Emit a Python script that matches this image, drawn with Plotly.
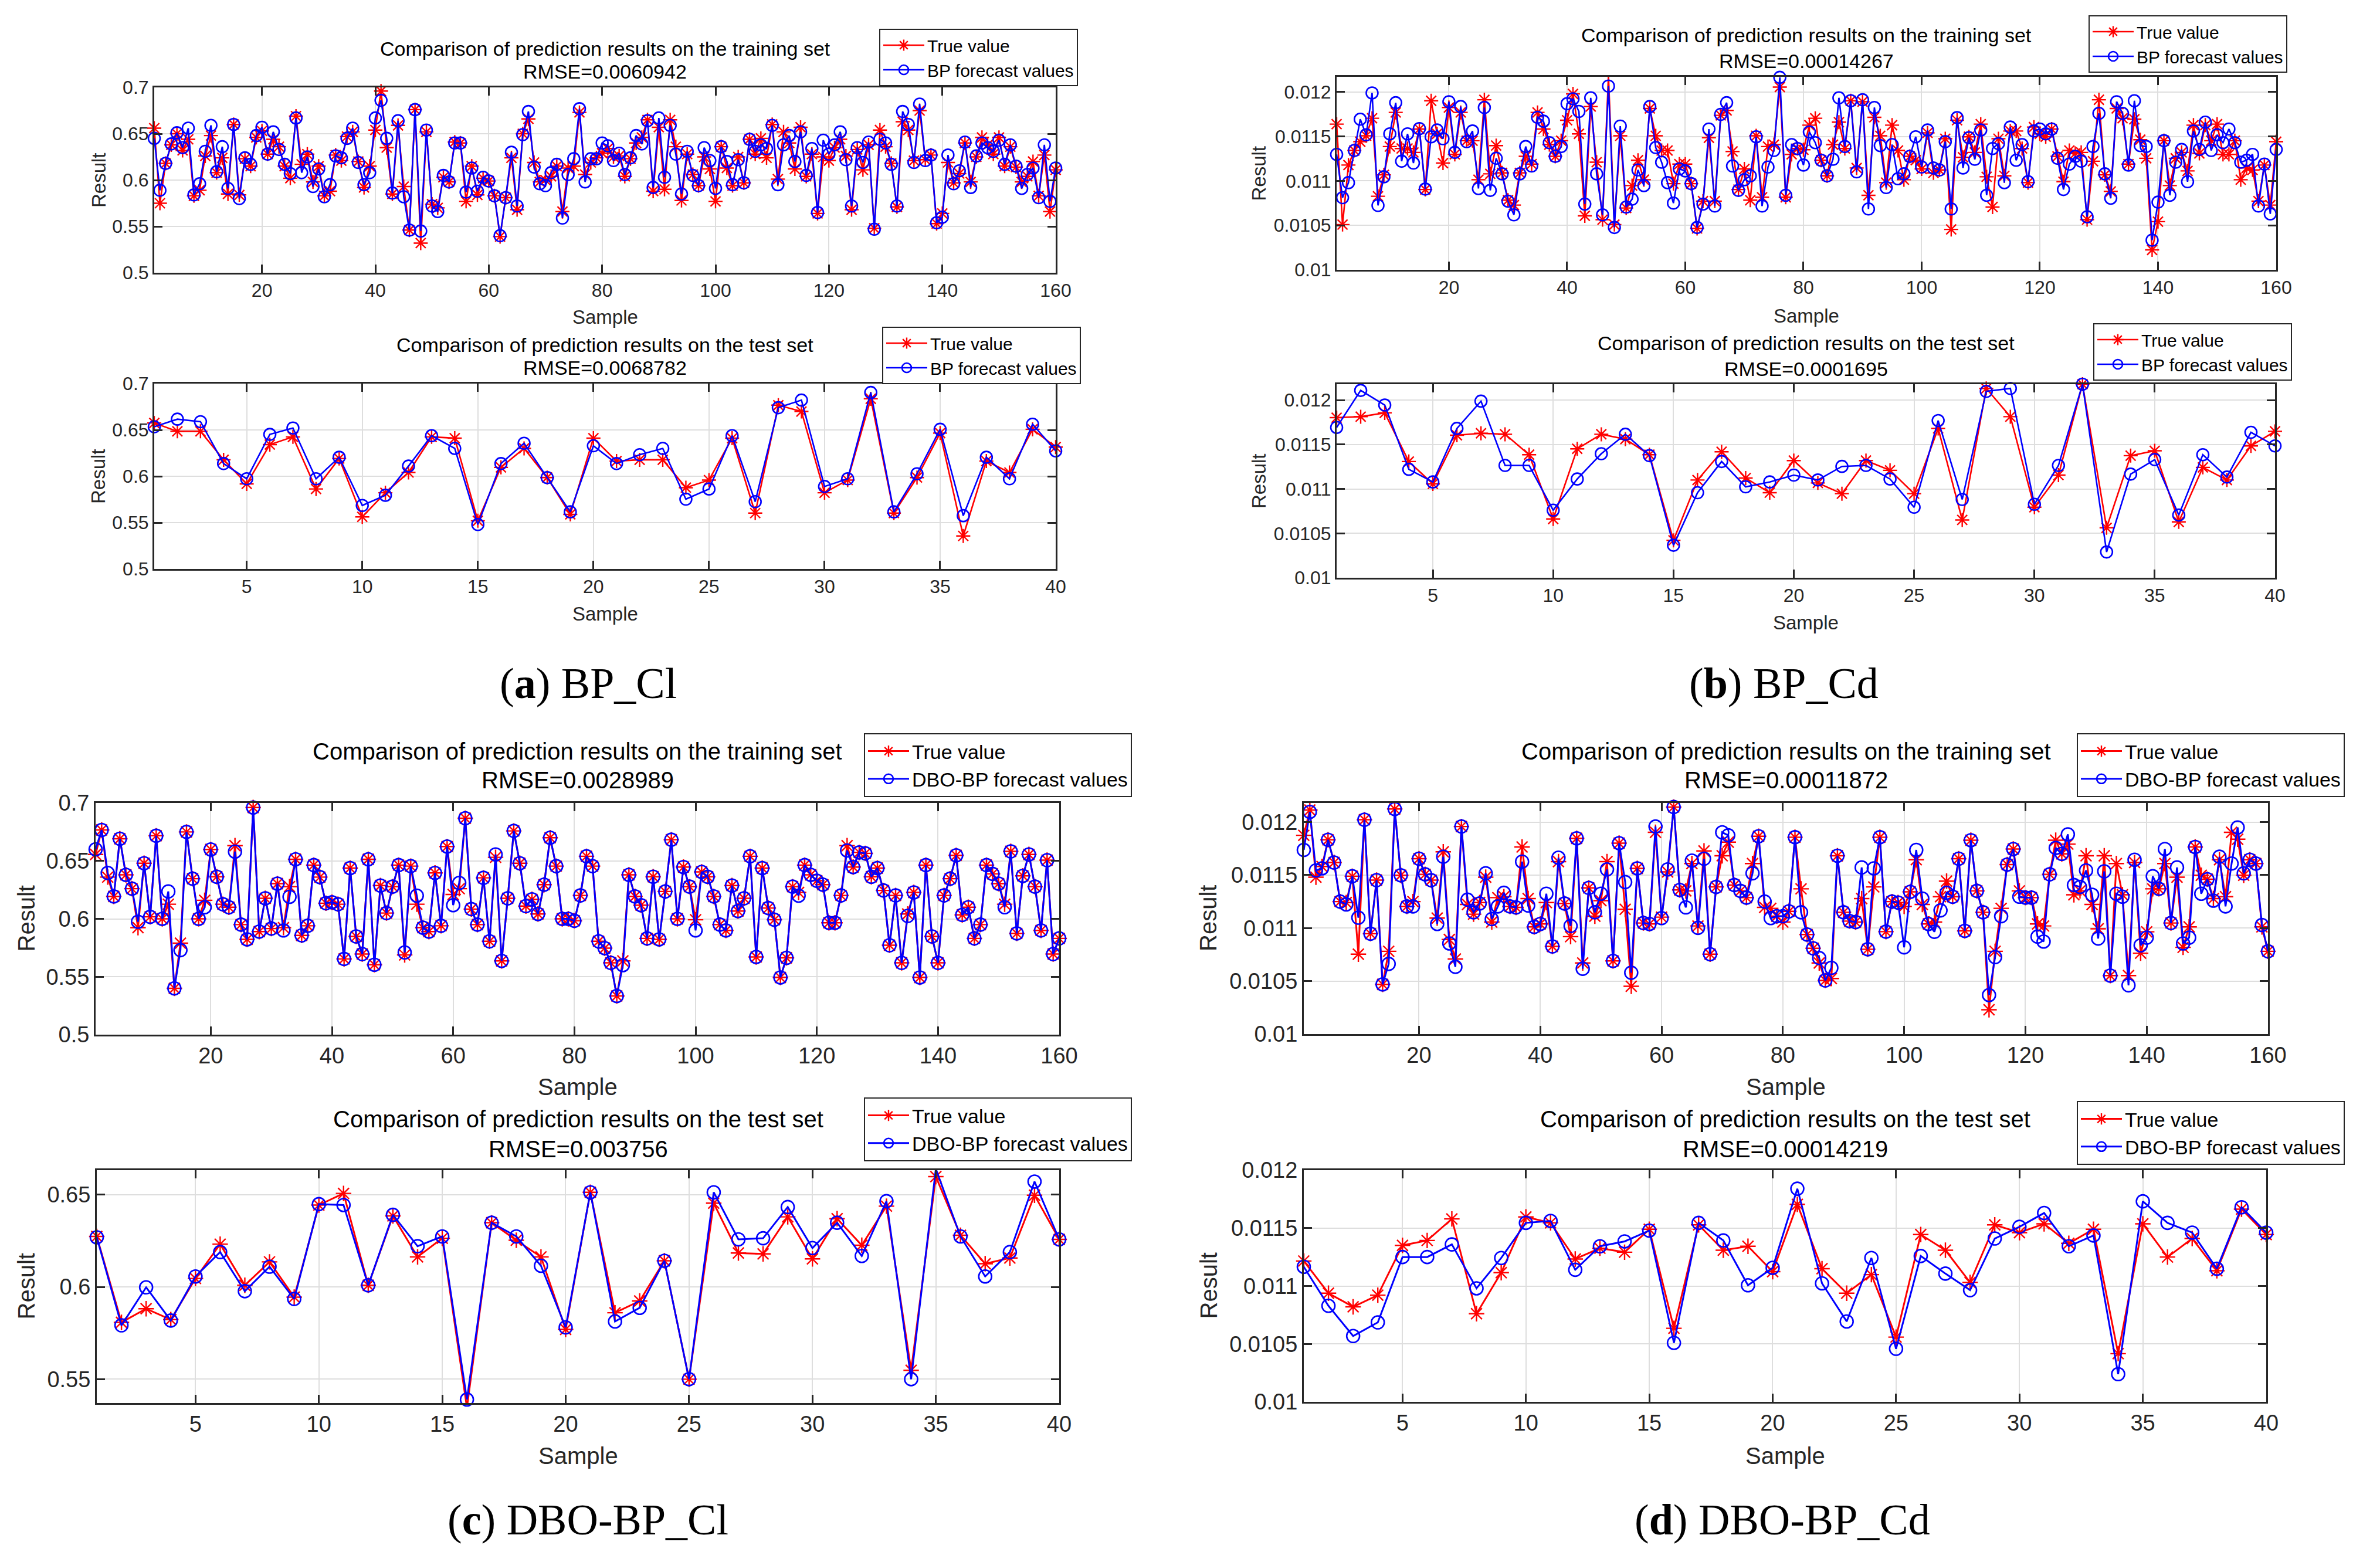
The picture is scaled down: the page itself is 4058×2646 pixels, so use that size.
import plotly.graph_objects as go

# ---------------- data ----------------
train_x = list(range(1, 161))
test_x = list(range(1, 41))

a_train_true = [0.656, 0.575, 0.618, 0.638, 0.650, 0.632, 0.644, 0.583, 0.589, 0.626,
                0.648, 0.608, 0.624, 0.585, 0.660, 0.584, 0.623, 0.615, 0.646, 0.653,
                0.628, 0.644, 0.636, 0.615, 0.602, 0.669, 0.617, 0.628, 0.598, 0.615,
                0.583, 0.588, 0.627, 0.621, 0.647, 0.652, 0.620, 0.592, 0.615, 0.654,
                0.696, 0.635, 0.585, 0.659, 0.593, 0.546, 0.676, 0.532, 0.652, 0.574,
                0.570, 0.603, 0.598, 0.641, 0.640, 0.577, 0.615, 0.584, 0.602, 0.599,
                0.583, 0.539, 0.581, 0.624, 0.568, 0.650, 0.666, 0.619, 0.598, 0.600,
                0.604, 0.615, 0.566, 0.613, 0.615, 0.673, 0.606, 0.619, 0.624, 0.629,
                0.634, 0.625, 0.626, 0.604, 0.623, 0.640, 0.646, 0.665, 0.588, 0.657,
                0.590, 0.665, 0.636, 0.578, 0.628, 0.606, 0.594, 0.625, 0.612, 0.577,
                0.636, 0.613, 0.594, 0.625, 0.597, 0.644, 0.628, 0.645, 0.624, 0.660,
                0.601, 0.652, 0.640, 0.612, 0.657, 0.604, 0.628, 0.564, 0.625, 0.621,
                0.635, 0.644, 0.626, 0.568, 0.633, 0.611, 0.638, 0.548, 0.654, 0.636,
                0.618, 0.571, 0.663, 0.654, 0.621, 0.675, 0.622, 0.627, 0.553, 0.564,
                0.619, 0.597, 0.607, 0.640, 0.598, 0.625, 0.646, 0.638, 0.628, 0.646,
                0.615, 0.636, 0.614, 0.598, 0.604, 0.620, 0.583, 0.627, 0.566, 0.611]
a_train_pred = [0.645, 0.589, 0.618, 0.639, 0.651, 0.635, 0.656, 0.584, 0.596, 0.631,
                0.659, 0.609, 0.636, 0.591, 0.660, 0.580, 0.624, 0.617, 0.648, 0.657,
                0.628, 0.652, 0.633, 0.617, 0.607, 0.667, 0.608, 0.625, 0.593, 0.612,
                0.582, 0.595, 0.626, 0.624, 0.645, 0.656, 0.619, 0.595, 0.608, 0.667,
                0.686, 0.645, 0.586, 0.664, 0.582, 0.546, 0.676, 0.545, 0.654, 0.572,
                0.566, 0.605, 0.598, 0.640, 0.640, 0.587, 0.613, 0.588, 0.603, 0.599,
                0.583, 0.540, 0.581, 0.630, 0.572, 0.649, 0.674, 0.614, 0.596, 0.594,
                0.608, 0.617, 0.559, 0.606, 0.623, 0.677, 0.598, 0.623, 0.623, 0.640,
                0.637, 0.621, 0.629, 0.606, 0.624, 0.648, 0.639, 0.664, 0.592, 0.667,
                0.603, 0.659, 0.628, 0.585, 0.631, 0.605, 0.594, 0.635, 0.621, 0.591,
                0.636, 0.620, 0.595, 0.622, 0.597, 0.644, 0.631, 0.638, 0.634, 0.659,
                0.595, 0.638, 0.648, 0.620, 0.652, 0.605, 0.634, 0.565, 0.643, 0.628,
                0.638, 0.652, 0.622, 0.572, 0.635, 0.619, 0.641, 0.547, 0.644, 0.640,
                0.617, 0.572, 0.674, 0.660, 0.619, 0.682, 0.621, 0.627, 0.554, 0.560,
                0.627, 0.596, 0.610, 0.641, 0.592, 0.626, 0.640, 0.635, 0.631, 0.643,
                0.617, 0.638, 0.615, 0.591, 0.606, 0.613, 0.581, 0.638, 0.577, 0.613]
a_test_true = [0.6575, 0.6485, 0.6485, 0.6178, 0.5918, 0.6342, 0.6425, 0.5863, 0.6192, 0.5562,
               0.5822, 0.6041, 0.6425, 0.6411, 0.5520, 0.6096, 0.6301, 0.5986, 0.5589, 0.6411,
               0.6164, 0.6178, 0.6178, 0.5877, 0.5959, 0.6411, 0.5603, 0.6767, 0.6699, 0.5822,
               0.5959, 0.6836, 0.5603, 0.5986, 0.6466, 0.5356, 0.6164, 0.6041, 0.6507, 0.6315]
a_test_pred = [0.6534, 0.6616, 0.6589, 0.6137, 0.5973, 0.6452, 0.6521, 0.5973, 0.6205, 0.5685,
               0.5795, 0.6110, 0.6438, 0.6301, 0.5479, 0.6137, 0.6356, 0.5986, 0.5616, 0.6329,
               0.6137, 0.6233, 0.6301, 0.5753, 0.5863, 0.6438, 0.5726, 0.6740, 0.6822, 0.5890,
               0.5973, 0.6904, 0.5616, 0.6027, 0.6507, 0.5575, 0.6205, 0.5973, 0.6562, 0.6274]

b_train_true = [0.011638, 0.010509, 0.011178, 0.011342, 0.011441, 0.011507, 0.011704, 0.010827, 0.011068, 0.011386,
                0.011770, 0.011364, 0.011364, 0.011320, 0.011583, 0.010903, 0.011901, 0.011529, 0.011200, 0.011825,
                0.011298, 0.011770, 0.011452, 0.011452, 0.011013, 0.011912, 0.011079, 0.011397, 0.011090, 0.010783,
                0.010728, 0.011090, 0.011276, 0.011189, 0.011770, 0.011583, 0.011408, 0.011276, 0.011452, 0.011682,
                0.011978, 0.011529, 0.010607, 0.011836, 0.011210, 0.010564, 0.012186, 0.010509, 0.011507, 0.010695,
                0.010947, 0.011232, 0.011013, 0.011814, 0.011507, 0.011342, 0.011342, 0.010969, 0.011189, 0.011189,
                0.010969, 0.010465, 0.010772, 0.011485, 0.010772, 0.011737, 0.011792, 0.011331, 0.010903, 0.011134,
                0.010783, 0.011507, 0.010816, 0.011386, 0.011408, 0.012055, 0.010816, 0.011298, 0.011364, 0.011350,
                0.011627, 0.011704, 0.011232, 0.011057, 0.011408, 0.011660, 0.011364, 0.011901, 0.011145, 0.011890,
                0.010838, 0.011715, 0.011507, 0.010980, 0.011627, 0.011342, 0.011013, 0.011276, 0.011232, 0.011134,
                0.011540, 0.011090, 0.011123, 0.011474, 0.010454, 0.011682, 0.011265, 0.011496, 0.011320, 0.011638,
                0.011046, 0.010706, 0.011474, 0.011057, 0.011561, 0.011561, 0.011364, 0.010980, 0.011605, 0.011529,
                0.011496, 0.011583, 0.011276, 0.010991, 0.011342, 0.011309, 0.011320, 0.010564, 0.011221, 0.011912,
                0.011068, 0.010882, 0.011814, 0.011704, 0.011189, 0.011693, 0.011463, 0.011254, 0.010224, 0.010542,
                0.011452, 0.010947, 0.011254, 0.011320, 0.011112, 0.011627, 0.011309, 0.011627, 0.011452, 0.011638,
                0.011298, 0.011298, 0.011452, 0.011013, 0.011145, 0.011123, 0.010772, 0.011178, 0.010728, 0.011441]
b_train_pred = [0.011298, 0.010811, 0.010980, 0.011342, 0.011693, 0.011518, 0.011989, 0.010724, 0.011046, 0.011529,
                0.011879, 0.011221, 0.011529, 0.011200, 0.011588, 0.010908, 0.011496, 0.011572, 0.011474, 0.011890,
                0.011320, 0.011836, 0.011441, 0.011561, 0.010914, 0.011825, 0.010893, 0.011254, 0.011079, 0.010772,
                0.010618, 0.011079, 0.011386, 0.011167, 0.011715, 0.011671, 0.011430, 0.011276, 0.011386, 0.011868,
                0.011923, 0.011781, 0.010739, 0.011934, 0.011079, 0.010618, 0.012066, 0.010476, 0.011616, 0.010706,
                0.010794, 0.011123, 0.010947, 0.011836, 0.011375, 0.011210, 0.010980, 0.010750, 0.011134, 0.011112,
                0.010969, 0.010476, 0.010739, 0.011583, 0.010717, 0.011748, 0.011879, 0.011167, 0.010893, 0.011013,
                0.011057, 0.011496, 0.010717, 0.011156, 0.011342, 0.012164, 0.010838, 0.011408, 0.011364, 0.011178,
                0.011550, 0.011430, 0.011232, 0.011057, 0.011243, 0.011934, 0.011386, 0.011901, 0.011101, 0.011912,
                0.010684, 0.011825, 0.011397, 0.010925, 0.011408, 0.011024, 0.011079, 0.011276, 0.011496, 0.011156,
                0.011572, 0.011145, 0.011123, 0.011441, 0.010684, 0.011711, 0.011145, 0.011485, 0.011243, 0.011572,
                0.010838, 0.011364, 0.011419, 0.010980, 0.011605, 0.011232, 0.011408, 0.010991, 0.011561, 0.011583,
                0.011529, 0.011583, 0.011254, 0.010903, 0.011189, 0.011276, 0.011221, 0.010596, 0.011386, 0.011759,
                0.011079, 0.010805, 0.011890, 0.011759, 0.011178, 0.011901, 0.011397, 0.011386, 0.010333, 0.010761,
                0.011452, 0.010838, 0.011210, 0.011353, 0.010991, 0.011561, 0.011353, 0.011660, 0.011342, 0.011518,
                0.011430, 0.011583, 0.011430, 0.011210, 0.011232, 0.011298, 0.010717, 0.011189, 0.010629, 0.011353]
b_test_true = [0.011803, 0.011814, 0.011857, 0.011309, 0.011057, 0.011605, 0.011627, 0.011616, 0.011386, 0.010662,
               0.011452, 0.011616, 0.011561, 0.011386, 0.010421, 0.011101, 0.011419, 0.011123, 0.010958, 0.011320,
               0.011068, 0.010947, 0.011320, 0.011210, 0.010947, 0.011682, 0.010651, 0.012132, 0.011814, 0.010794,
               0.011156, 0.012180, 0.010563, 0.011375, 0.011430, 0.010629, 0.011243, 0.011101, 0.011485, 0.011649]
b_test_pred = [0.011693, 0.012110, 0.011945, 0.011221, 0.011079, 0.011682, 0.011989, 0.011265, 0.011265, 0.010761,
               0.011112, 0.011397, 0.011616, 0.011375, 0.010366, 0.010958, 0.011309, 0.011024, 0.011079, 0.011156,
               0.011101, 0.011254, 0.011265, 0.011112, 0.010794, 0.011770, 0.010882, 0.012099, 0.012132, 0.010827,
               0.011265, 0.012180, 0.010290, 0.011167, 0.011331, 0.010706, 0.011386, 0.011134, 0.011638, 0.011485]

c_train_true = [0.6556, 0.6767, 0.6360, 0.6194, 0.6691, 0.6380, 0.6260, 0.5924, 0.6480, 0.6017,
                0.6717, 0.6000, 0.6126, 0.5400, 0.5790, 0.6750, 0.6346, 0.6000, 0.6160, 0.6599,
                0.6363, 0.6126, 0.6100, 0.6632, 0.5950, 0.5823, 0.6961, 0.5890, 0.6177, 0.5916,
                0.6304, 0.5924, 0.6278, 0.6514, 0.5857, 0.5940, 0.6464, 0.6360, 0.6135, 0.6143,
                0.6126, 0.5654, 0.6438, 0.5848, 0.5696, 0.6514, 0.5604, 0.6287, 0.6050, 0.6278,
                0.6464, 0.5688, 0.6455, 0.6126, 0.5924, 0.5890, 0.6396, 0.5940, 0.6624, 0.6210,
                0.6260, 0.6868, 0.6084, 0.5950, 0.6354, 0.5806, 0.6531, 0.5637, 0.6177, 0.6759,
                0.6480, 0.6110, 0.6168, 0.6042, 0.6295, 0.6700, 0.6455, 0.6000, 0.6000, 0.5983,
                0.6202, 0.6540, 0.6455, 0.5806, 0.5747, 0.5620, 0.5334, 0.5637, 0.6380, 0.6194,
                0.6118, 0.5831, 0.6363, 0.5823, 0.6236, 0.6683, 0.6000, 0.6447, 0.6278, 0.5992,
                0.6405, 0.6363, 0.6194, 0.5950, 0.5900, 0.6287, 0.6067, 0.6177, 0.6540, 0.5671,
                0.6438, 0.6093, 0.5992, 0.5494, 0.5663, 0.6278, 0.6228, 0.6464, 0.6380, 0.6329,
                0.6295, 0.5966, 0.5966, 0.6202, 0.6632, 0.6447, 0.6573, 0.6565, 0.6363, 0.6438,
                0.6245, 0.5772, 0.6202, 0.5620, 0.6042, 0.6228, 0.5494, 0.6464, 0.5848, 0.5620,
                0.6202, 0.6346, 0.6548, 0.6034, 0.6100, 0.5831, 0.5950, 0.6464, 0.6388, 0.6304,
                0.6126, 0.6582, 0.5874, 0.6371, 0.6556, 0.6278, 0.5900, 0.6506, 0.5696, 0.5831]
c_train_pred = [0.6600, 0.6767, 0.6396, 0.6194, 0.6691, 0.6380, 0.6260, 0.5975, 0.6480, 0.6017,
                0.6717, 0.6000, 0.6236, 0.5400, 0.5730, 0.6750, 0.6346, 0.6000, 0.6100, 0.6599,
                0.6363, 0.6126, 0.6100, 0.6580, 0.5950, 0.5823, 0.6961, 0.5890, 0.6177, 0.5916,
                0.6304, 0.5900, 0.6190, 0.6514, 0.5857, 0.5940, 0.6464, 0.6360, 0.6135, 0.6143,
                0.6126, 0.5654, 0.6438, 0.5848, 0.5696, 0.6514, 0.5604, 0.6287, 0.6050, 0.6278,
                0.6464, 0.5710, 0.6455, 0.6200, 0.5924, 0.5890, 0.6396, 0.5940, 0.6624, 0.6118,
                0.6310, 0.6868, 0.6084, 0.5950, 0.6354, 0.5806, 0.6556, 0.5637, 0.6177, 0.6759,
                0.6480, 0.6110, 0.6168, 0.6042, 0.6295, 0.6700, 0.6455, 0.6000, 0.6000, 0.5983,
                0.6202, 0.6540, 0.6455, 0.5806, 0.5747, 0.5620, 0.5334, 0.5600, 0.6380, 0.6194,
                0.6118, 0.5831, 0.6363, 0.5823, 0.6236, 0.6683, 0.6000, 0.6447, 0.6278, 0.5900,
                0.6405, 0.6363, 0.6194, 0.5950, 0.5900, 0.6287, 0.6067, 0.6177, 0.6540, 0.5671,
                0.6438, 0.6093, 0.5992, 0.5494, 0.5663, 0.6278, 0.6200, 0.6464, 0.6380, 0.6329,
                0.6295, 0.5966, 0.5966, 0.6202, 0.6590, 0.6447, 0.6573, 0.6565, 0.6363, 0.6438,
                0.6245, 0.5772, 0.6202, 0.5620, 0.6025, 0.6228, 0.5494, 0.6464, 0.5848, 0.5620,
                0.6202, 0.6346, 0.6548, 0.6034, 0.6100, 0.5831, 0.5950, 0.6464, 0.6388, 0.6304,
                0.6100, 0.6582, 0.5874, 0.6371, 0.6556, 0.6278, 0.5900, 0.6506, 0.5696, 0.5831]
c_test_true = [0.6274, 0.5808, 0.5882, 0.5823, 0.6046, 0.6232, 0.6009, 0.6136, 0.5945, 0.6444,
               0.6507, 0.6009, 0.6385, 0.6163, 0.6264, 0.5346, 0.6348, 0.6253, 0.6163, 0.5770,
               0.6513, 0.5860, 0.5924, 0.6142, 0.5500, 0.6454, 0.6184, 0.6179, 0.6380, 0.6152,
               0.6370, 0.6226, 0.6438, 0.5548, 0.6598, 0.6280, 0.6126, 0.6157, 0.6497, 0.6258]
c_test_pred = [0.6269, 0.5792, 0.5998, 0.5818, 0.6057, 0.6189, 0.5977, 0.6110, 0.5935, 0.6449,
               0.6444, 0.6009, 0.6391, 0.6221, 0.6274, 0.5390, 0.6348, 0.6274, 0.6115, 0.5781,
               0.6513, 0.5813, 0.5887, 0.6142, 0.5500, 0.6513, 0.6258, 0.6264, 0.6433, 0.6211,
               0.6348, 0.6168, 0.6465, 0.5500, 0.6640, 0.6274, 0.6057, 0.6189, 0.6571, 0.6258]

d_train_true = [0.011875, 0.012114, 0.011480, 0.011581, 0.011833, 0.011618, 0.011250, 0.011241, 0.011489, 0.010754,
                0.012022, 0.010947, 0.011452, 0.010469, 0.010781, 0.012123, 0.011498, 0.011204, 0.011250, 0.011654,
                0.011507, 0.011452, 0.011094, 0.011719, 0.010892, 0.010708, 0.011958, 0.011223, 0.011131, 0.011241,
                0.011480, 0.011057, 0.011287, 0.011296, 0.011204, 0.011195, 0.011765, 0.011278, 0.011011, 0.011039,
                0.011241, 0.010827, 0.011627, 0.011232, 0.010919, 0.011847, 0.010671, 0.011379, 0.011112, 0.011259,
                0.011627, 0.010690, 0.011801, 0.011177, 0.010451, 0.011563, 0.011048, 0.011039, 0.011903, 0.011103,
                0.011530, 0.012142, 0.011360, 0.011351, 0.011609, 0.011020, 0.011728, 0.010754, 0.011388, 0.011682,
                0.011811, 0.011406, 0.011351, 0.011287, 0.011609, 0.011866, 0.011195, 0.011186, 0.011112, 0.011057,
                0.011158, 0.011857, 0.011370, 0.010939, 0.010809, 0.010671, 0.010506, 0.010524, 0.011682, 0.011149,
                0.011066, 0.011057, 0.011278, 0.010800, 0.011388, 0.011857, 0.010966, 0.011250, 0.011241, 0.011204,
                0.011342, 0.011645, 0.011223, 0.011039, 0.011057, 0.011296, 0.011443, 0.011296, 0.011654, 0.010974,
                0.011829, 0.011351, 0.011149, 0.010230, 0.010781, 0.011186, 0.011599, 0.011746, 0.011351, 0.011287,
                0.011287, 0.011039, 0.011020, 0.011507, 0.011829, 0.011700, 0.011792, 0.011314, 0.011351, 0.011682,
                0.011223, 0.010993, 0.011682, 0.010552, 0.011609, 0.011314, 0.010552, 0.011618, 0.010763, 0.010965,
                0.011370, 0.011370, 0.011609, 0.011048, 0.011480, 0.010818, 0.011011, 0.011765, 0.011498, 0.011461,
                0.011278, 0.011645, 0.011296, 0.011903, 0.011838, 0.011498, 0.011645, 0.011609, 0.011011, 0.010781]
d_train_pred = [0.011737, 0.012096, 0.011544, 0.011563, 0.011833, 0.011618, 0.011250, 0.011223, 0.011489, 0.011098,
                0.012022, 0.010947, 0.011452, 0.010469, 0.010662, 0.012123, 0.011498, 0.011204, 0.011204, 0.011654,
                0.011507, 0.011452, 0.011039, 0.011673, 0.010855, 0.010634, 0.011958, 0.011268, 0.011149, 0.011232,
                0.011517, 0.011085, 0.011204, 0.011333, 0.011204, 0.011195, 0.011627, 0.011213, 0.011011, 0.011039,
                0.011324, 0.010827, 0.011664, 0.011232, 0.011020, 0.011847, 0.010616, 0.011379, 0.011149, 0.011324,
                0.011553, 0.010690, 0.011801, 0.011434, 0.010579, 0.011563, 0.011048, 0.011039, 0.011958, 0.011094,
                0.011553, 0.012142, 0.011360, 0.011195, 0.011636, 0.011002, 0.011654, 0.010754, 0.011388, 0.011903,
                0.011875, 0.011406, 0.011351, 0.011287, 0.011517, 0.011866, 0.011250, 0.011094, 0.011112, 0.011112,
                0.011158, 0.011857, 0.011149, 0.010939, 0.010809, 0.010717, 0.010506, 0.010625, 0.011682, 0.011149,
                0.011066, 0.011057, 0.011572, 0.010800, 0.011563, 0.011857, 0.010966, 0.011250, 0.011241, 0.010818,
                0.011342, 0.011737, 0.011278, 0.011039, 0.010965, 0.011167, 0.011333, 0.011296, 0.011654, 0.010974,
                0.011829, 0.011351, 0.011149, 0.010368, 0.010726, 0.011112, 0.011599, 0.011746, 0.011296, 0.011287,
                0.011287, 0.010919, 0.010873, 0.011507, 0.011756, 0.011700, 0.011884, 0.011406, 0.011388, 0.011544,
                0.011314, 0.010901, 0.011535, 0.010552, 0.011324, 0.011296, 0.010460, 0.011645, 0.010837, 0.010910,
                0.011489, 0.011370, 0.011746, 0.011048, 0.011572, 0.010855, 0.010910, 0.011765, 0.011324, 0.011461,
                0.011259, 0.011673, 0.011204, 0.011609, 0.011949, 0.011517, 0.011645, 0.011609, 0.011029, 0.010781]
d_test_true = [0.011216, 0.010938, 0.010820, 0.010921, 0.011351, 0.011393, 0.011579, 0.010761, 0.011115, 0.011596,
               0.011545, 0.011233, 0.011326, 0.011292, 0.011490, 0.010635, 0.011528, 0.011309, 0.011343, 0.011124,
               0.011705, 0.011149, 0.010938, 0.011098, 0.010559, 0.011444, 0.011309, 0.011031, 0.011528, 0.011461,
               0.011537, 0.011368, 0.011490, 0.010416, 0.011537, 0.011250, 0.011410, 0.011132, 0.011663, 0.011444]
d_test_pred = [0.011166, 0.010829, 0.010568, 0.010686, 0.011250, 0.011250, 0.011359, 0.010980, 0.011242, 0.011545,
               0.011562, 0.011140, 0.011343, 0.011385, 0.011478, 0.010509, 0.011545, 0.011393, 0.011006, 0.011157,
               0.011840, 0.011023, 0.010694, 0.011242, 0.010458, 0.011259, 0.011107, 0.010964, 0.011410, 0.011511,
               0.011630, 0.011343, 0.011436, 0.010239, 0.011731, 0.011545, 0.011461, 0.011149, 0.011680, 0.011461]

cl_ticks = [0.5, 0.55, 0.6, 0.65, 0.7]
cl_ticktext = ["0.5", "0.55", "0.6", "0.65", "0.7"]
cd_ticks = [0.01, 0.0105, 0.011, 0.0115, 0.012]
cd_ticktext = ["0.01", "0.0105", "0.011", "0.0115", "0.012"]
train_ticks = [20, 40, 60, 80, 100, 120, 140, 160]
test_ticks = [5, 10, 15, 20, 25, 30, 35, 40]

rmse_text = ["RMSE=0.0060942", "RMSE=0.0068782", "RMSE=0.00014267", "RMSE=0.0001695",
             "RMSE=0.0028989", "RMSE=0.003756", "RMSE=0.00011872", "RMSE=0.00014219"]
captions = ["(<b>a</b>) BP_Cl", "(<b>b</b>) BP_Cd", "(<b>c</b>) DBO-BP_Cl", "(<b>d</b>) DBO-BP_Cd"]

# ---------------- layout helpers ----------------
W, H = 4058, 2646
FONT = "Liberation Sans, Arial, Helvetica, sans-serif"
TXT = "#262626"


def fx(px):
    return px / W


def fy(py):
    return 1 - py / H


FS_TOP = dict(title=34, tick=32, lab=33, leg=30)
FS_BOT = dict(title=40, tick=38, lab=40, leg=34)

panels = [
    dict(box=(255, 1792, 141, 457), x=train_x, t=a_train_true, p=a_train_pred, yr=[0.5, 0.7], yt=cl_ticks, ytt=cl_ticktext,
         xt=train_ticks, xr=[1, 160], title="Comparison of prediction results on the training set", ty=(75, 114),
         xl=533, yl=160, leg=(1491, 41), name="BP forecast values", fs=FS_TOP, small=True),
    dict(box=(255, 1792, 646, 962), x=test_x, t=a_test_true, p=a_test_pred, yr=[0.5, 0.7], yt=cl_ticks, ytt=cl_ticktext,
         xt=test_ticks, xr=[1, 40], title="Comparison of prediction results on the test set", ty=(580, 619),
         xl=1038, yl=160, leg=(1496, 549), name="BP forecast values", fs=FS_TOP, small=True),
    dict(box=(2271, 3873, 123, 452), x=train_x, t=b_train_true, p=b_train_pred, yr=[0.01, 0.01217], yt=cd_ticks, ytt=cd_ticktext,
         xt=train_ticks, xr=[1, 160], title="Comparison of prediction results on the training set", ty=(52, 96),
         xl=530, yl=2138, leg=(3553, 18), name="BP forecast values", fs=FS_TOP, small=True),
    dict(box=(2271, 3871, 647, 977), x=test_x, t=b_test_true, p=b_test_pred, yr=[0.01, 0.01218], yt=cd_ticks, ytt=cd_ticktext,
         xt=test_ticks, xr=[1, 40], title="Comparison of prediction results on the test set", ty=(577, 621),
         xl=1053, yl=2138, leg=(3561, 543), name="BP forecast values", fs=FS_TOP, small=True),
    dict(box=(155, 1798, 1361, 1756), x=train_x, t=c_train_true, p=c_train_pred, yr=[0.5, 0.7], yt=cl_ticks, ytt=cl_ticktext,
         xt=train_ticks, xr=[1, 160], title="Comparison of prediction results on the training set", ty=(1273, 1322),
         xl=1845, yl=36, leg=(1465, 1242), name="DBO-BP forecast values", fs=FS_BOT, small=False),
    dict(box=(157, 1798, 1987, 2384), x=test_x, t=c_test_true, p=c_test_pred, yr=[0.5371, 0.6633], yt=cl_ticks, ytt=cl_ticktext,
         xt=test_ticks, xr=[1, 40], title="Comparison of prediction results on the test set", ty=(1900, 1951),
         xl=2474, yl=36, leg=(1465, 1863), name="DBO-BP forecast values", fs=FS_BOT, small=False),
    dict(box=(2215, 3859, 1361, 1755), x=train_x, t=d_train_true, p=d_train_pred, yr=[0.01, 0.01218], yt=cd_ticks, ytt=cd_ticktext,
         xt=train_ticks, xr=[1, 160], title="Comparison of prediction results on the training set", ty=(1273, 1322),
         xl=1845, yl=2052, leg=(3533, 1242), name="DBO-BP forecast values", fs=FS_BOT, small=False),
    dict(box=(2215, 3856, 1987, 2382), x=test_x, t=d_test_true, p=d_test_pred, yr=[0.01, 0.012], yt=cd_ticks, ytt=cd_ticktext,
         xt=test_ticks, xr=[1, 40], title="Comparison of prediction results on the test set", ty=(1900, 1951),
         xl=2474, yl=2052, leg=(3533, 1869), name="DBO-BP forecast values", fs=FS_BOT, small=False),
]

fig = go.Figure()
annotations = []
layout_upd = {}

for i, pnl in enumerate(panels):
    n = i + 1
    sfx = "" if n == 1 else str(n)
    xa, ya = "x" + sfx, "y" + sfx
    leg = "legend" + sfx
    x0, x1, t0, t1 = pnl["box"]
    fs = pnl["fs"]
    msz = 20 if pnl["small"] else 22
    lw = 2.6 if pnl["small"] else 3.0

    fig.add_trace(go.Scatter(
        x=pnl["x"], y=pnl["t"], mode="lines+markers", name="True value",
        line=dict(color="#FF0000", width=lw),
        marker=dict(symbol="asterisk-open", size=msz, color="#FF0000", line=dict(color="#FF0000", width=2.4)),
        xaxis=xa, yaxis=ya, legend=leg, cliponaxis=False))
    fig.add_trace(go.Scatter(
        x=pnl["x"], y=pnl["p"], mode="lines+markers", name=pnl["name"],
        line=dict(color="#0000FF", width=lw),
        marker=dict(symbol="circle-open", size=msz, color="#0000FF", line=dict(color="#0000FF", width=2.6)),
        xaxis=xa, yaxis=ya, legend=leg, cliponaxis=False))

    axcommon = dict(showline=True, linecolor=TXT, linewidth=3, mirror="ticks", ticks="inside",
                    ticklen=14, tickwidth=2.5, tickcolor=TXT, showgrid=True, gridcolor="#dedede",
                    gridwidth=2, zeroline=False, automargin=False,
                    tickfont=dict(family=FONT, size=fs["tick"], color=TXT))
    layout_upd["xaxis" + sfx] = dict(axcommon, domain=[fx(x0), fx(x1)], anchor=ya, range=pnl["xr"],
                                     tickvals=pnl["xt"], ticktext=[str(v) for v in pnl["xt"]])
    layout_upd["yaxis" + sfx] = dict(axcommon, domain=[fy(t1), fy(t0)], anchor=xa, range=pnl["yr"],
                                     tickvals=pnl["yt"], ticktext=pnl["ytt"])

    lx, ltop = pnl["leg"]
    layout_upd[leg] = dict(x=fx(lx), y=fy(ltop), xanchor="left", yanchor="top",
                           bgcolor="white", bordercolor=TXT, borderwidth=2,
                           font=dict(family=FONT, size=fs["leg"], color="black"),
                           itemwidth=70, tracegroupgap=0)

    cx = fx((x0 + x1) / 2)
    annotations.append(dict(text=pnl["title"], x=cx, y=fy(pnl["ty"][0]), xref="paper", yref="paper",
                            showarrow=False, xanchor="center", yanchor="middle",
                            font=dict(family=FONT, size=fs["title"], color="black")))
    annotations.append(dict(text=rmse_text[i], x=cx, y=fy(pnl["ty"][1]), xref="paper", yref="paper",
                            showarrow=False, xanchor="center", yanchor="middle",
                            font=dict(family=FONT, size=fs["title"], color="black")))
    annotations.append(dict(text="Sample", x=cx, y=fy(pnl["xl"]), xref="paper", yref="paper",
                            showarrow=False, xanchor="center", yanchor="middle",
                            font=dict(family=FONT, size=fs["lab"], color=TXT)))
    annotations.append(dict(text="Result", x=fx(pnl["yl"]), y=fy((t0 + t1) / 2), xref="paper", yref="paper",
                            showarrow=False, xanchor="center", yanchor="middle", textangle=-90,
                            font=dict(family=FONT, size=fs["lab"], color=TXT)))

cap_pos = [(995, 1157), (3033, 1157), (994, 2583), (3031, 2583)]
for txt, (cxp, cyp) in zip(captions, cap_pos):
    annotations.append(dict(text=txt, x=fx(cxp), y=fy(cyp), xref="paper", yref="paper", showarrow=False,
                            xanchor="center", yanchor="middle",
                            font=dict(family="Liberation Serif, Times New Roman, serif", size=74, color="black")))

fig.update_layout(**layout_upd)
fig.update_layout(width=W, height=H, margin=dict(l=0, r=0, t=0, b=0, pad=0, autoexpand=False),
                  paper_bgcolor="white", plot_bgcolor="white", annotations=annotations,
                  showlegend=True)

fig.write_html("out.html")
